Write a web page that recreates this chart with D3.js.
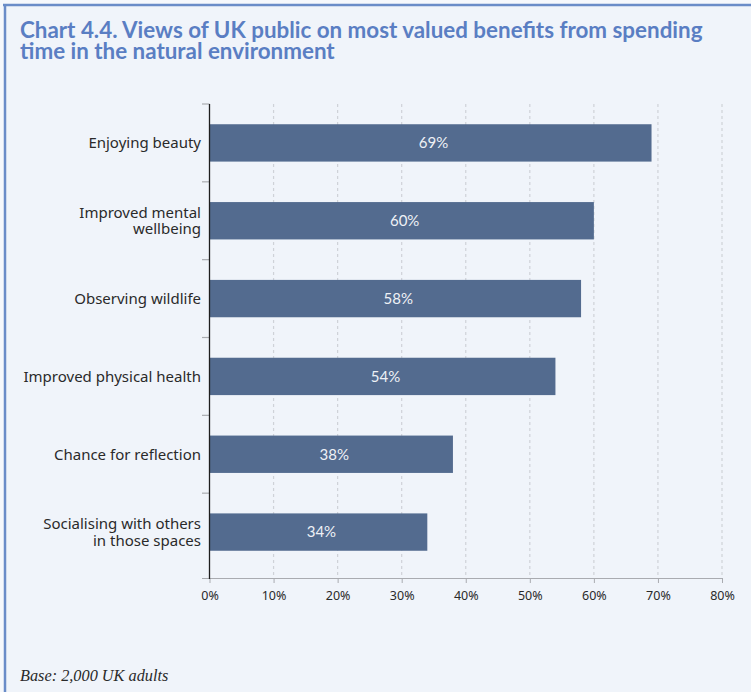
<!DOCTYPE html>
<html>
<head>
<meta charset="utf-8">
<script src="https://cdn.jsdelivr.net/npm/d3@7/dist/d3.min.js"></script>
<style>
  html, body { margin: 0; padding: 0; background: #f6f8fc; }
  svg { display: block; }
</style>
</head>
<body>
<svg id="chart" width="751" height="692"></svg>
<script>
// Benefits, top to bottom, with share of respondents (%)
const categories = [
  ["Enjoying beauty"],
  ["Improved mental", "wellbeing"],
  ["Observing wildlife"],
  ["Improved physical health"],
  ["Chance for reflection"],
  ["Socialising with others", "in those spaces"]
];
const values = [69, 60, 58, 54, 38, 34];
const tickValues = [0, 10, 20, 30, 40, 50, 60, 70, 80];
const titleLines = [
  "Chart 4.4. Views of UK public on most valued benefits from spending",
  "time in the natural environment"
];
const footnote = "Base: 2,000 UK adults";

const svg = d3.select("#chart");
const W = 751, H = 692;

// panel background and frame
svg.append("rect").attr("x", 4).attr("y", 4).attr("width", W - 4).attr("height", H - 4)
  .attr("fill", "#f0f4fa");
svg.append("line").attr("x1", 3).attr("x2", W).attr("y1", 5).attr("y2", 5)
  .attr("stroke", "#6a8cc8").attr("stroke-width", 2.5);
svg.append("line").attr("x1", 5).attr("x2", 5).attr("y1", 4).attr("y2", H)
  .attr("stroke", "#6a8cc8").attr("stroke-width", 2.5);

// title
const title = svg.append("g");
titleLines.forEach((t, i) => {
  title.append("text")
    .attr("x", 20).attr("y", 38 + i * 21)
    .attr("font-family", "Lato, 'Open Sans', sans-serif")
    .attr("font-weight", 700)
    .attr("font-size", 21)
    .attr("fill", "#5a7ec3")
    .text(t);
});
// fit the first line to its width
{
  const first = title.select("text").node();
  const w = first.getComputedTextLength();
  const fs = 21 * 683 / w;
  title.selectAll("text").attr("font-size", fs);
}

const x0 = 209.5, x1 = 722, yTop = 104, yBand = 571, yAxis = 578;
const x = d3.scaleLinear().domain([0, 80]).range([x0, x1]);
const y = d3.scaleBand().domain(d3.range(categories.length)).range([yTop, yBand])
  .paddingInner(0.52).paddingOuter(0.26);

// dashed vertical gridlines
svg.append("g").selectAll("line").data(tickValues.slice(1)).join("line")
  .attr("x1", d => x(d)).attr("x2", d => x(d))
  .attr("y1", yTop).attr("y2", yAxis)
  .attr("stroke", "#cfd2d8").attr("stroke-width", 1.2)
  .attr("stroke-dasharray", "3,3");

// bars
svg.append("g").selectAll("rect").data(values).join("rect")
  .attr("x", x(0))
  .attr("y", (d, i) => y(i))
  .attr("width", d => x(d) - x(0))
  .attr("height", y.bandwidth())
  .attr("fill", "#536b8f");

// value labels
svg.append("g").selectAll("text").data(values).join("text")
  .attr("x", d => (x(0) + x(d)) / 2 + 3)
  .attr("y", (d, i) => y(i) + y.bandwidth() / 2)
  .attr("dy", "0.35em")
  .attr("text-anchor", "middle")
  .attr("font-family", "Lato, 'Noto Sans', sans-serif")
  .attr("font-size", 15)
  .attr("fill", "#eef1f6")
  .text(d => d + "%");

// x axis
const xAxis = svg.append("g").attr("transform", `translate(0,${yAxis})`)
  .call(d3.axisBottom(x).tickValues(tickValues).tickSize(5).tickSizeOuter(0)
    .tickFormat(d => d + "%"));
xAxis.select(".domain").remove();
xAxis.append("line").attr("x1", 202).attr("x2", x1).attr("y1", 0.5).attr("y2", 0.5)
  .attr("stroke", "#a9abb0").attr("stroke-width", 1.2);
xAxis.selectAll(".tick line").attr("stroke", "#a9abb0");
xAxis.selectAll(".tick text")
  .attr("y", 13)
  .attr("font-family", "'Noto Sans', 'Open Sans', sans-serif")
  .attr("font-size", 12.5)
  .attr("fill", "#2a2a2a");

// y axis: band boundary ticks and the axis line
const boundaries = d3.range(categories.length).map(i => y(i) - y.step() * y.paddingInner() / 2);
boundaries[0] = yTop;
svg.append("g").selectAll("line").data(boundaries).join("line")
  .attr("x1", 202).attr("x2", x0).attr("y1", d => d).attr("y2", d => d)
  .attr("stroke", "#a9abb0").attr("stroke-width", 1.2);
svg.append("line").attr("x1", x0).attr("x2", x0).attr("y1", yTop).attr("y2", yAxis + 1)
  .attr("stroke", "#1e1e1e").attr("stroke-width", 1.3);

// category labels
const lab = svg.append("g").selectAll("text").data(categories).join("text")
  .attr("text-anchor", "end")
  .attr("font-family", "'Noto Sans', 'Open Sans', sans-serif")
  .attr("font-size", 15)
  .attr("fill", "#2a2a2a")
  .attr("transform", (d, i) => `translate(201,${y(i) + y.bandwidth() / 2})`);
lab.each(function(lines) {
  const t = d3.select(this);
  const lh = 16.5;
  lines.forEach((l, j) => {
    t.append("tspan").attr("x", 0)
      .attr("y", (j - (lines.length - 1) / 2) * lh)
      .attr("dy", "0.35em")
      .text(l);
  });
});

// footnote
svg.append("text")
  .attr("x", 20).attr("y", 681)
  .attr("font-family", "'Liberation Serif', 'DejaVu Serif', serif")
  .attr("font-style", "italic")
  .attr("font-size", 16.3)
  .attr("fill", "#2a2a2a")
  .text(footnote);
</script>
</body>
</html>
